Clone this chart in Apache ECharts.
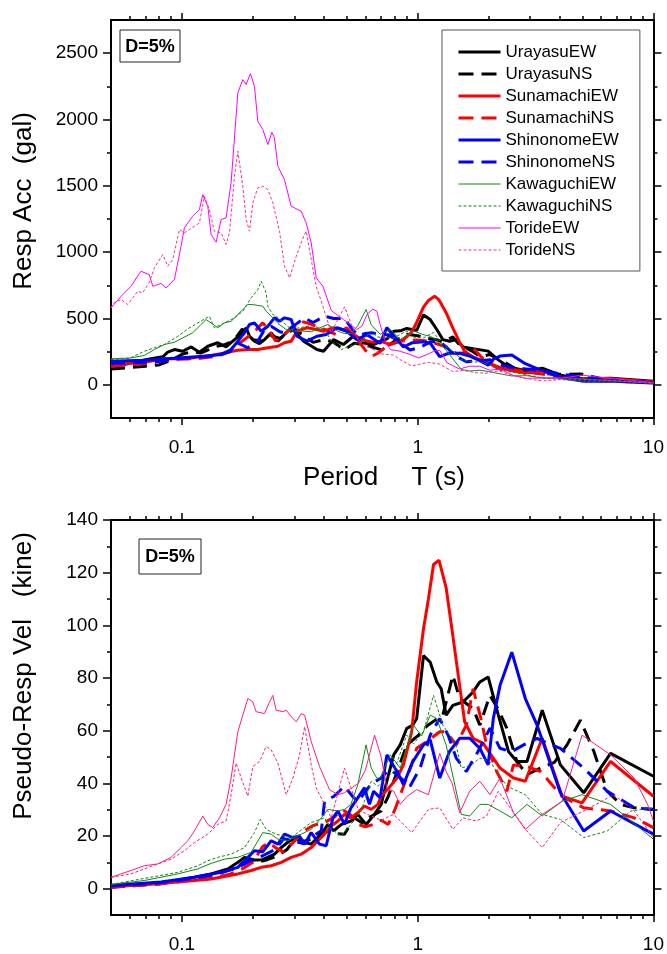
<!DOCTYPE html>
<html><head><meta charset="utf-8">
<script src="https://cdn.jsdelivr.net/npm/echarts@6/dist/echarts.min.js"></script>
<style>html,body{margin:0;padding:0;background:#fff}#c{width:667px;height:954px}</style>
</head><body><div id="c"></div>
<script>
// ---------- axis ticks ----------
const periodTicks = [0.1, 1, 10];
const periodMinorTicks = [0.06,0.07,0.08,0.09,0.2,0.3,0.4,0.5,0.6,0.7,0.8,0.9,2,3,4,5,6,7,8,9];
const accTicks = [0, 500, 1000, 1500, 2000, 2500];
const accMinorTicks = [250, 750, 1250, 1750, 2250];
const velTicks = [0, 20, 40, 60, 80, 100, 120, 140];
const velMinorTicks = [10, 30, 50, 70, 90, 110, 130];
const seriesNames = ['UrayasuEW','UrayasuNS','SunamachiEW','SunamachiNS','ShinonomeEW','ShinonomeNS','KawaguchiEW','KawaguchiNS','TorideEW','TorideNS'];

// ---------- response acceleration (gal) : [period s, value] ----------
const accUrayasuEW = [[0.05,140],[0.0569,153],[0.0649,178],[0.0739,196],[0.0829,211],[0.087,246],[0.0929,266],[0.1008,253],[0.1094,286],[0.1186,246],[0.1287,291],[0.1418,317],[0.1539,286],[0.1671,341],[0.1812,392],[0.1872,430],[0.1934,366],[0.203,329],[0.2133,311],[0.2239,341],[0.2391,392],[0.2552,329],[0.2722,379],[0.2906,430],[0.3282,329],[0.3737,266],[0.3987,253],[0.44,341],[0.484,304],[0.533,366],[0.579,317],[0.649,304],[0.74,346],[0.791,403],[0.843,407],[0.899,425],[0.99,410],[1.058,527],[1.13,492],[1.205,417],[1.278,341],[1.364,329],[1.457,341],[1.556,286],[1.718,273],[1.99,254],[2.198,188],[2.427,135],[2.908,104],[3.375,126],[4.03,73],[5.06,45],[6.58,49],[10,27]];
const accUrayasuNS = [[0.05,120],[0.06,130],[0.07,140],[0.08,150],[0.09,185],[0.1,230],[0.11,250],[0.12,240],[0.13,265],[0.14,290],[0.15,300],[0.16,320],[0.17,360],[0.18,420],[0.19,380],[0.2,340],[0.22,330],[0.24,370],[0.26,350],[0.28,390],[0.3,420],[0.33,370],[0.36,320],[0.4025,342],[0.44,320],[0.489,266],[0.538,314],[0.6,300],[0.7,265],[0.8,330],[0.899,382],[1.0,370],[1.1,350],[1.2,340],[1.278,324],[1.41,361],[1.506,301],[1.718,250],[1.835,213],[2.025,228],[2.2,195],[2.389,160],[2.634,115],[2.908,94],[3.32,87],[3.8,80],[4.3,80],[4.9,82],[5.59,59],[6.37,36],[7.26,28],[8.29,23],[10,19]];
const accSunamachiEW = [[0.05,153],[0.0692,170],[0.0842,196],[0.1059,196],[0.1167,211],[0.1329,221],[0.1515,241],[0.1726,261],[0.1903,266],[0.2098,266],[0.2314,279],[0.2552,291],[0.2722,317],[0.2906,329],[0.3074,404],[0.3388,430],[0.3737,417],[0.3987,404],[0.44,430],[0.484,417],[0.533,379],[0.569,350],[0.608,330],[0.65,320],[0.693,329],[0.765,304],[0.87,341],[0.943,397],[0.99,470],[1.058,585],[1.11,635],[1.18,668],[1.232,640],[1.32,544],[1.41,428],[1.506,322],[1.582,252],[1.718,209],[1.896,183],[2.235,129],[2.548,104],[2.861,90],[3.375,106],[4.1,54],[4.98,41],[6.58,46],[10,22]];
const accSunamachiNS = [[0.05,140],[0.06,150],[0.07,160],[0.08,175],[0.09,190],[0.1,195],[0.12,200],[0.14,215],[0.16,250],[0.17,300],[0.18,329],[0.2,390],[0.22,467],[0.23,430],[0.25,329],[0.27,380],[0.3,440],[0.32,479],[0.35,460],[0.4,420],[0.45,380],[0.5,430],[0.55,350],[0.6,260],[0.64,216],[0.68,240],[0.75,300],[0.85,330],[0.99,338],[1.1,330],[1.24,302],[1.35,280],[1.457,235],[1.608,243],[1.718,278],[1.85,215],[1.96,175],[2.163,129],[2.389,97],[2.548,116],[2.908,100],[3.32,84],[4.1,55],[5.06,38],[6.58,28],[8.29,20],[10,15]];
const accShinonomeEW = [[0.05,178],[0.0692,185],[0.096,203],[0.1245,216],[0.1466,228],[0.1616,266],[0.1726,329],[0.1841,392],[0.1934,455],[0.203,467],[0.2168,404],[0.2314,442],[0.2468,505],[0.2593,479],[0.2722,505],[0.2906,492],[0.3074,366],[0.3388,329],[0.3737,366],[0.409,379],[0.455,430],[0.5,404],[0.552,341],[0.608,379],[0.671,329],[0.693,313],[0.74,431],[0.817,342],[0.87,285],[0.95,318],[1.058,324],[1.13,314],[1.24,213],[1.364,240],[1.506,238],[1.662,216],[1.835,182],[1.99,148],[2.093,194],[2.235,217],[2.507,225],[2.861,159],[3.21,122],[4.03,57],[5.06,27],[6.58,28],[10,13]];
const accShinonomeNS = [[0.05,160],[0.06,165],[0.07,170],[0.08,175],[0.09,190],[0.1,200],[0.12,210],[0.14,220],[0.16,250],[0.17,320],[0.18,300],[0.19,279],[0.21,330],[0.224,417],[0.24,440],[0.26,400],[0.272,392],[0.29,430],[0.31,467],[0.33,505],[0.36,470],[0.4025,518],[0.44,500],[0.489,500],[0.53,415],[0.56,370],[0.6,387],[0.64,393],[0.7,377],[0.75,377],[0.8,346],[0.928,263],[1.024,281],[1.13,324],[1.24,327],[1.35,270],[1.457,214],[1.608,174],[1.8,181],[2.025,189],[2.235,150],[2.5,131],[2.814,122],[3.21,112],[3.6,96],[4.03,83],[5.06,57],[6.37,36],[8.29,23],[10,19]];
const accKawaguchiEW = [[0.05,196],[0.0608,203],[0.0692,221],[0.0764,266],[0.0842,304],[0.0929,321],[0.1008,354],[0.1111,392],[0.1205,455],[0.1265,492],[0.1329,467],[0.1418,430],[0.1515,467],[0.1616,479],[0.1698,517],[0.1812,568],[0.1903,605],[0.1998,605],[0.2098,598],[0.2203,593],[0.2276,555],[0.2391,517],[0.2552,463],[0.2815,406],[0.3205,406],[0.3534,400],[0.3897,434],[0.416,455],[0.459,404],[0.489,387],[0.521,386],[0.557,446],[0.604,568],[0.635,453],[0.693,381],[0.765,417],[0.843,341],[0.959,407],[1.05,380],[1.13,366],[1.205,337],[1.32,260],[1.53,116],[1.662,104],[1.835,110],[1.99,101],[2.235,83],[2.507,67],[2.908,69],[3.375,51],[4.1,51],[4.98,45],[6.58,31],[10,12]];
const accKawaguchiNS = [[0.05,190],[0.06,200],[0.0692,253],[0.0764,279],[0.0842,304],[0.096,366],[0.1059,422],[0.1167,467],[0.1307,517],[0.1372,430],[0.1565,479],[0.1671,505],[0.1812,555],[0.1966,656],[0.2098,718],[0.2168,781],[0.2276,693],[0.2314,593],[0.2429,530],[0.2509,518],[0.2906,419],[0.3534,446],[0.4025,420],[0.4297,329],[0.475,266],[0.521,294],[0.575,322],[0.635,404],[0.678,360],[0.791,353],[0.899,407],[0.96,360],[1.058,354],[1.167,395],[1.278,305],[1.457,235],[1.53,188],[1.69,175],[1.835,170],[2.025,150],[2.389,102],[2.861,78],[3.375,52],[4.03,41],[5.06,24],[6.37,22],[8.03,23],[10,19]];
const accTorideEW = [[0.05,580],[0.0552,668],[0.0608,743],[0.067,856],[0.0727,831],[0.0752,743],[0.0815,764],[0.0856,731],[0.0929,794],[0.0991,1045],[0.1024,1183],[0.111,1271],[0.1186,1321],[0.1226,1434],[0.1287,1346],[0.1329,1133],[0.1396,1075],[0.1466,1246],[0.1539,1259],[0.1616,1523],[0.1726,2201],[0.1812,2301],[0.1872,2264],[0.1952,2346],[0.203,2251],[0.2098,1987],[0.2203,1924],[0.2314,1811],[0.2406,1904],[0.2468,1862],[0.2552,1648],[0.2722,1547],[0.2906,1346],[0.3103,1321],[0.3205,1309],[0.3365,1221],[0.3534,1070],[0.3711,806],[0.3962,743],[0.43,560],[0.484,492],[0.552,417],[0.58,442],[0.609,530],[0.645,570],[0.671,555],[0.693,455],[0.728,329],[0.765,266],[0.843,253],[0.931,228],[1.009,203],[1.096,228],[1.169,253],[1.24,260],[1.332,166],[1.468,128],[1.506,120],[1.662,140],[1.835,140],[2.025,110],[2.235,118],[2.548,71],[2.861,49],[3.375,52],[4.1,51],[4.98,73],[6.58,49],[8.29,32],[10,16]];
const accTorideNS = [[0.05,580],[0.0516,620],[0.0552,643],[0.0589,605],[0.0649,706],[0.0681,693],[0.0727,773],[0.0764,882],[0.0829,982],[0.087,894],[0.0914,944],[0.0976,1171],[0.1024,1146],[0.1077,1171],[0.1129,1195],[0.1186,1221],[0.1245,1422],[0.1307,1321],[0.1372,1158],[0.1466,1146],[0.1539,1058],[0.159,1146],[0.1671,1572],[0.1726,1761],[0.1812,1497],[0.1872,1246],[0.1934,1158],[0.1998,1372],[0.2098,1485],[0.2203,1497],[0.2314,1472],[0.2429,1372],[0.2593,1158],[0.2722,894],[0.2861,806],[0.3054,969],[0.3282,1120],[0.3365,1158],[0.3534,944],[0.3711,743],[0.3962,592],[0.4297,393],[0.46,498],[0.49,588],[0.521,462],[0.56,336],[0.62,284],[0.7,233],[0.79,224],[0.843,190],[0.943,142],[1.11,170],[1.24,156],[1.41,100],[1.556,109],[1.776,91],[1.96,88],[2.198,106],[2.467,78],[2.908,47],[3.375,29],[4.03,39],[5.06,37],[6.8,33],[8.29,22],[10,12]];

// ---------- pseudo response velocity (kine) : [period s, value] ----------
const velUrayasuEW = [[0.05,0.8],[0.0815,2.1],[0.1129,4.3],[0.1329,5.6],[0.1565,7.5],[0.1726,10.0],[0.1841,11.9],[0.203,10.9],[0.22,11],[0.2468,13.1],[0.2636,15.6],[0.2861,18.2],[0.3103,19.4],[0.3314,17.5],[0.3534,16.9],[0.3897,20.7],[0.416,24.4],[0.44,22],[0.475,24.4],[0.521,25.7],[0.557,28.2],[0.604,24.4],[0.656,28.2],[0.7,32.0],[0.74,40.8],[0.791,50.8],[0.843,54.6],[0.899,60.9],[0.95,62],[0.99,64.6],[1.058,88.5],[1.13,86.0],[1.205,78.5],[1.258,75.9],[1.32,65.9],[1.41,69.6],[1.556,70.9],[1.718,74.7],[1.835,78.5],[1.99,80.4],[2.198,65.9],[2.427,52.1],[2.634,48.3],[2.908,48.3],[3.375,67.8],[4.03,47.0],[5.06,36.4],[6.58,51.4],[10,42.7]];
const velUrayasuNS = [[0.05,0.5],[0.08,1.8],[0.11,3.8],[0.14,5.5],[0.17,8.5],[0.19,10.5],[0.21,10],[0.23,11],[0.2552,12.5],[0.28,15],[0.3,18.8],[0.33,18],[0.36,19],[0.4025,21.9],[0.44,21],[0.489,20.7],[0.538,26.9],[0.58,25],[0.62,27],[0.7,29.5],[0.75,35],[0.8,42],[0.899,54.6],[1.0,58],[1.1,62],[1.278,65.9],[1.41,81.0],[1.506,72.2],[1.718,68.4],[1.835,62.1],[2.025,73.4],[2.2,68],[2.389,60.9],[2.634,48.3],[2.908,43.3],[3.32,45.8],[3.8,48],[4.3,54.6],[4.9,64.0],[5.59,52.1],[6.37,37.0],[7.26,32.0],[8.29,30.7],[10,30.1]];
const velSunamachiEW = [[0.05,0.6],[0.096,2.5],[0.1329,3.7],[0.1726,5.6],[0.1966,6.9],[0.2168,8.1],[0.2391,8.7],[0.2636,10.0],[0.2906,11.9],[0.3205,13.1],[0.3534,15.6],[0.3772,18.2],[0.4025,20.7],[0.4297,23.8],[0.459,25.7],[0.489,28.2],[0.521,26.9],[0.56,29],[0.594,31.4],[0.635,30.1],[0.678,32.0],[0.7,35.1],[0.75,38],[0.817,42.0],[0.87,47.0],[0.943,59.6],[0.99,78.5],[1.058,98.6],[1.11,109.9],[1.167,123.1],[1.232,124.7],[1.32,114.3],[1.41,96.0],[1.506,77.2],[1.582,63.4],[1.718,57.1],[1.896,55.2],[2.235,45.8],[2.548,42.0],[2.861,40.8],[3.375,57.1],[4.1,35.1],[4.98,32.6],[6.58,48.3],[10,35.1]];
const velSunamachiNS = [[0.05,0.5],[0.08,1.8],[0.1,2.8],[0.13,3.9],[0.16,5.5],[0.18,7.5],[0.2,10.0],[0.22,16.0],[0.235,17.5],[0.25,15.5],[0.27,14],[0.3,18],[0.33,22],[0.36,24],[0.4,25],[0.44,27],[0.48,30],[0.52,28],[0.56,24.4],[0.6,23.5],[0.65,24.4],[0.7,26],[0.75,24.4],[0.8,30],[0.88,40],[0.95,48],[0.99,53.3],[1.1,56],[1.24,59.6],[1.32,59.6],[1.457,54.6],[1.608,62.1],[1.718,75.9],[1.85,65],[1.96,54.6],[2.163,44.5],[2.389,37.0],[2.548,47.0],[2.908,46.4],[3.32,44.5],[4.1,35],[5.06,30.7],[6.58,29.5],[8.29,26.9],[10,23.2]];
const velShinonomeEW = [[0.05,1.2],[0.0815,2.5],[0.1129,4.3],[0.1466,6.2],[0.1726,8.1],[0.1903,11.9],[0.203,14.4],[0.22,14],[0.2391,18.2],[0.2552,16.9],[0.2722,20.7],[0.2956,19.4],[0.315,20],[0.3314,16.9],[0.3534,21.3],[0.3832,16.9],[0.409,16.3],[0.437,26.9],[0.459,29.5],[0.489,24.4],[0.521,30.7],[0.557,34.5],[0.594,38.3],[0.624,32.0],[0.65,37],[0.693,34.5],[0.74,50.8],[0.817,44.5],[0.87,39.5],[0.95,48],[1.058,54.6],[1.13,56.5],[1.24,42.0],[1.364,52.1],[1.506,57.1],[1.662,57.1],[1.835,53.3],[1.99,47.0],[2.093,64.6],[2.235,77.2],[2.507,89.8],[2.861,72.2],[3.21,62.1],[4.03,36.4],[5.06,21.9],[6.58,29.5],[10,20.7]];
const velShinonomeNS = [[0.05,1.0],[0.08,2.2],[0.11,3.8],[0.14,5.5],[0.17,7.8],[0.2,11],[0.22,12.5],[0.25,15],[0.27,19],[0.3,18],[0.33,17],[0.36,20],[0.39,22],[0.4025,33.2],[0.44,35],[0.489,38.9],[0.53,35],[0.56,33],[0.6,37],[0.64,40],[0.7,42.0],[0.75,45],[0.8,44],[0.928,38.9],[1.024,45.8],[1.13,58.3],[1.24,64.6],[1.35,58],[1.457,49.6],[1.608,44.5],[1.8,52],[2.025,60.9],[2.235,53.3],[2.5,52],[2.814,54.6],[3.21,57.1],[3.6,55],[4.03,53.3],[5.06,45.8],[6.37,37.0],[8.29,30.7],[10,30.1]];
const velKawaguchiEW = [[0.05,1.6],[0.0692,3.1],[0.096,5.6],[0.1167,7.5],[0.1329,9.6],[0.1515,11.2],[0.1726,11.9],[0.1966,13.8],[0.2203,21.3],[0.2391,20.7],[0.2552,18.8],[0.2815,18.2],[0.3205,20.7],[0.3534,22.5],[0.3897,26.9],[0.416,30.1],[0.459,29.5],[0.489,30.1],[0.521,32.0],[0.557,39.5],[0.604,54.6],[0.635,45.8],[0.67,42],[0.693,42.0],[0.765,50.8],[0.843,45.8],[0.959,62.1],[1.04,58],[1.13,65.9],[1.205,64.6],[1.32,54.6],[1.53,28.2],[1.662,27.6],[1.835,32.0],[1.99,32.0],[2.235,29.5],[2.507,26.9],[2.908,32.0],[3.375,27.6],[4.1,33.2],[4.98,35.7],[6.58,32.0],[10,18.8]];
const velKawaguchiNS = [[0.05,1.6],[0.096,6.2],[0.1167,8.7],[0.1287,10.6],[0.1418,11.9],[0.1616,13.1],[0.1841,15.6],[0.203,21.3],[0.215,26.3],[0.2276,22.5],[0.2509,20.7],[0.2906,19.4],[0.3534,25.1],[0.4025,26.9],[0.4297,22.5],[0.475,20.1],[0.521,24.4],[0.575,29.5],[0.635,40.8],[0.678,38.9],[0.791,44.5],[0.899,58.3],[0.96,55],[1.058,59.6],[1.167,73.4],[1.278,62.1],[1.457,54.6],[1.53,45.8],[1.69,47.0],[1.835,49.6],[2.025,48.3],[2.389,38.9],[2.861,35.7],[3.375,28.2],[4.03,26.3],[5.06,19.4],[6.37,21.9],[8.03,29.5],[10,30.7]];
const velTorideEW = [[0.05,4.3],[0.0608,6.9],[0.0692,8.7],[0.079,9.4],[0.0899,11.9],[0.0991,15.6],[0.1059,18.2],[0.1129,21.9],[0.1226,27.6],[0.1287,24.4],[0.135,23.2],[0.1442,26.9],[0.1539,32.0],[0.1616,42.0],[0.1726,59.6],[0.1812,65.9],[0.1903,72.2],[0.1998,70.9],[0.2064,67.2],[0.2239,66.5],[0.2352,70.9],[0.2429,73.4],[0.2509,67.8],[0.268,67.2],[0.2769,67.8],[0.2906,65.3],[0.3054,63.4],[0.3205,66.5],[0.3314,65.9],[0.3534,55.9],[0.3832,46.4],[0.4225,37.6],[0.459,35.7],[0.489,36.4],[0.52,38],[0.56,40],[0.6,45],[0.656,58.3],[0.7,50],[0.74,38],[0.791,37.0],[0.843,32.0],[0.9,35],[0.99,37.6],[1.11,35.7],[1.24,51.4],[1.32,44.5],[1.4,40],[1.506,28.8],[1.662,37.0],[1.835,40.8],[2.025,35.7],[2.235,42.0],[2.548,28.8],[2.861,22.5],[3.375,28.2],[4.1,33.2],[4.98,58.3],[6.58,50.8],[8.29,42.0],[9.44,32.0],[10,25.7]];
const velTorideNS = [[0.05,4.3],[0.0608,5.6],[0.0692,7.5],[0.079,9.4],[0.0899,11.2],[0.1024,14.4],[0.1129,17.5],[0.1287,20.7],[0.1418,24.4],[0.1539,25.7],[0.1616,35.7],[0.1698,47.7],[0.1784,42.0],[0.1903,35.1],[0.1998,46.4],[0.2133,48.3],[0.2276,54.0],[0.2391,52.7],[0.2552,47.7],[0.2769,35.7],[0.2956,42.0],[0.3154,50.8],[0.3314,61.5],[0.3534,47.0],[0.3711,38.3],[0.4025,32.0],[0.4297,26.9],[0.459,36.4],[0.489,45.8],[0.521,38.3],[0.56,30],[0.62,28],[0.7,26],[0.79,28.2],[0.843,25.7],[0.943,21.3],[1.11,30.1],[1.24,30.7],[1.41,22.5],[1.556,26.9],[1.776,25.7],[1.96,27.6],[2.198,37.0],[2.467,30.7],[2.908,21.9],[3.375,15.6],[4.03,25.1],[5.06,29.5],[6.8,35.7],[8.29,29.5],[10,19.4]];

const accData = [accUrayasuEW, accUrayasuNS, accSunamachiEW, accSunamachiNS, accShinonomeEW, accShinonomeNS, accKawaguchiEW, accKawaguchiNS, accTorideEW, accTorideNS];
const velData = [velUrayasuEW, velUrayasuNS, velSunamachiEW, velSunamachiNS, velShinonomeEW, velShinonomeNS, velKawaguchiEW, velKawaguchiNS, velTorideEW, velTorideNS];

// ---------- styles ----------
const FONT = 'Liberation Sans, Arial, sans-serif';
const THICK_DASH = [14, 8];
const THIN_DASH = [3, 2];
const lineStyles = [
  {color:'#000000', width:3, type:'solid'},
  {color:'#000000', width:3, type:THICK_DASH},
  {color:'#ff0000', width:3, type:'solid'},
  {color:'#ff0000', width:3, type:THICK_DASH},
  {color:'#0000ff', width:3, type:'solid'},
  {color:'#0000ff', width:3, type:THICK_DASH},
  {color:'#118811', width:1, type:'solid'},
  {color:'#118811', width:1, type:THIN_DASH},
  {color:'#ff00ff', width:1, type:'solid'},
  {color:'#ff2d95', width:1, type:THIN_DASH}
];
const velPink = '#ff1a8c';

const grids = [
  {left:111, top:20, width:543, height:398},
  {left:111, top:520, width:543, height:398}
];

function xAx(grid, position, major) {
  return {
    gridIndex: grid, type:'log', logBase:10, min:0.05, max:10, position,
    splitLine:{show:false},
    axisLine:{show: major, onZero:false, lineStyle:{color:'#000', width:2}},
    axisTick:{show:true, inside:false, length: major ? 7 : 4, customValues: major ? periodTicks : periodMinorTicks, lineStyle:{color:'#000', width:1.5}},
    axisLabel:{show: major && position === 'bottom', customValues: periodTicks, margin:20, color:'#000', fontSize:19, fontFamily:FONT, formatter: v => String(v)}
  };
}
function yAx(grid, position, major, min, max, ticks, minor) {
  return {
    gridIndex: grid, type:'value', min, max, position,
    splitLine:{show:false},
    axisLine:{show: major, onZero:false, lineStyle:{color:'#000', width:2}},
    axisTick:{show:true, inside:false, length: major ? 8 : 4, customValues: major ? ticks : minor, lineStyle:{color:'#000', width:1.5}},
    axisLabel:{show: major && position === 'left', customValues: ticks, margin:13, color:'#000', fontSize:19, fontFamily:FONT, formatter: v => String(v)}
  };
}

const xAxis = [], yAxis = [];
for (let g = 0; g < 2; g++) {
  xAxis.push(xAx(g,'bottom',true), xAx(g,'bottom',false), xAx(g,'top',true), xAx(g,'top',false));
}
yAxis.push(yAx(0,'left',true,-250,2750,accTicks,accMinorTicks), yAx(0,'left',false,-250,2750,accTicks,accMinorTicks),
           yAx(0,'right',true,-250,2750,accTicks,accMinorTicks), yAx(0,'right',false,-250,2750,accTicks,accMinorTicks));
yAxis.push(yAx(1,'left',true,-10,140,velTicks,velMinorTicks), yAx(1,'left',false,-10,140,velTicks,velMinorTicks),
           yAx(1,'right',true,-10,140,velTicks,velMinorTicks), yAx(1,'right',false,-10,140,velTicks,velMinorTicks));

const series = [];
[accData, velData].forEach((set, p) => {
  set.forEach((d, i) => {
    const ls = Object.assign({}, lineStyles[i]);
    if (p === 1 && i >= 8) ls.color = velPink;
    series.push({
      name: seriesNames[i], type:'line', xAxisIndex: p*4, yAxisIndex: p*4,
      data: d, symbol:'none', showSymbol:false, smooth:false,
      lineStyle: ls, itemStyle:{color: ls.color},
      emphasis:{disabled:true}, animation:false
    });
  });
});

function dBox(x, y, w, h) {
  return {type:'group', children:[
    {type:'rect', shape:{x, y, width:w, height:h}, style:{fill:'#fff', stroke:'#222', lineWidth:1}, z:100},
    {type:'text', x: x + w/2, y: y + h/2 + 1, style:{text:'D=5%', font:'bold 18px ' + FONT, fill:'#000', align:'center', verticalAlign:'middle'}, z:101}
  ]};
}

const legendData = seriesNames.map((n, i) => ({
  name: n,
  lineStyle: {width: lineStyles[i].width, type: lineStyles[i].type === 'solid' ? 'solid' : (lineStyles[i].width > 1 ? [15, 8] : THIN_DASH)}
}));

const option = {
  backgroundColor:'#fff',
  animation:false,
  grid: grids,
  xAxis, yAxis, series,
  legend: {
    data: legendData, orient:'vertical', left:442, top:30,
    padding:[11,21,10,15], itemGap:0, itemWidth:42, itemHeight:14,
    borderColor:'#555', borderWidth:1, backgroundColor:'#fff',
    selectedMode:false,
    itemStyle:{opacity:0},
    textStyle:{fontSize:17, lineHeight:22, color:'#000', fontFamily:FONT}
  },
  graphic: [
    dBox(120, 30, 60, 32),
    dBox(139, 539, 62, 35),
    {type:'text', x:24, y:201, rotation:Math.PI/2, style:{text:'Resp Acc  (gal)', font:'26px ' + FONT, fill:'#000', align:'center', verticalAlign:'middle'}},
    {type:'text', x:24, y:676, rotation:Math.PI/2, style:{text:'Pseudo-Resp Vel   (kine)', font:'26px ' + FONT, fill:'#000', align:'center', verticalAlign:'middle'}},
    {type:'text', x:384, y:478, style:{text:'Period\u3000 T (s)', font:'26px ' + FONT, fill:'#000', align:'center', verticalAlign:'middle'}}
  ]
};

const chart = echarts.init(document.getElementById('c'), null, {renderer:'canvas'});
chart.setOption(option);
</script></body></html>
